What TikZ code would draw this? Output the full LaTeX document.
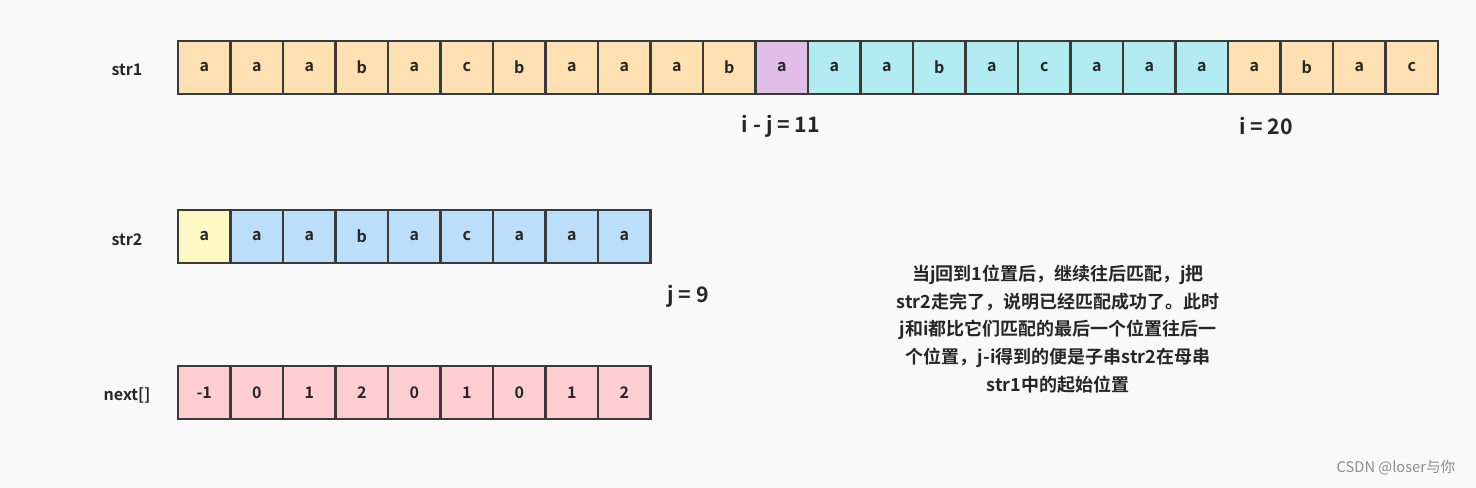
\documentclass[tikz,border=0pt]{standalone}
\usepackage{fontspec}
\setmainfont{Noto Sans CJK SC}[BoldFont={* Bold}]
\newfontfamily\cjk{Noto Sans CJK SC}
\definecolor{bg}{HTML}{F9F9F9}
\definecolor{cor}{HTML}{FFE0B2}
\definecolor{cpu}{HTML}{E1BEE7}
\definecolor{ccy}{HTML}{B2EBF2}
\definecolor{cye}{HTML}{FFF9C4}
\definecolor{cbl}{HTML}{BBDEFB}
\definecolor{cpk}{HTML}{FFCDD2}
\definecolor{edge}{HTML}{3A3A3A}
\begin{document}
\begin{tikzpicture}[x=0.75pt,y=-0.75pt,
  cell/.style={draw=edge,line width=1.6pt,minimum width=52.5*0.75pt,minimum height=53*0.75pt,inner sep=0pt,font=\bfseries\fontsize{12}{14}\selectfont,text=black!85},
  lab/.style={font=\bfseries\fontsize{12}{14}\selectfont,text=black!85},
  big/.style={font=\bfseries\fontsize{16}{18}\selectfont,text=black!85}]
\fill[bg] (0,0) rectangle (1476,488);
\useasboundingbox (0,0) rectangle (1476,488);
\def\sone{a,a,a,b,a,c,b,a,a,a,b,a,a,a,b,a,c,a,a,a,a,b,a,c}
\foreach \c [count=\i from 0] in \sone {
  \pgfmathsetmacro\col{\i==11?"cpu":((\i>11 && \i<20)?"ccy":"cor")}
  \node[cell,fill=\col] (s1c\i) at ({178+52.5*\i+26.25},67.5) {\c};
}
\foreach \c [count=\i from 0] in {a,a,a,b,a,c,a,a,a} {
  \pgfmathsetmacro\col{\i==0?"cye":"cbl"}
  \node[cell,fill=\col] (s2c\i) at ({178+52.5*\i+26.25},236.5) {\c};
}
\foreach \c [count=\i from 0] in {-1,0,1,2,0,1,0,1,2} {
  \node[cell,fill=cpk] (nc\i) at ({178+52.5*\i+26.25},392.5) {\c};
}
\node[lab] (l1) at (127,70) {str1};
\node[lab] (l2) at (127,240) {str2};
\node[lab] (l3) at (127,395) {next[]};
\node[big] (ij) at (781,126) {i - j = 11};
\node[big] (i20) at (1266,126) {i = 20};
\node[big] (j9) at (688,296) {j = 9};
\node[align=center,font=\bfseries\fontsize{13.5}{20.8}\selectfont,text=black!85] (note) at (1058,329)
 {当j回到1位置后，继续往后匹配，j把\\str2走完了，说明已经匹配成功了。此时\\j和i都比它们匹配的最后一个位置往后一\\个位置，j-i得到的便是子串str2在母串\\str1中的起始位置};
\node[font=\fontsize{11}{13}\selectfont,text=black!45] (wm) at (1396,468) {CSDN @loser与你};
\end{tikzpicture}
\end{document}
